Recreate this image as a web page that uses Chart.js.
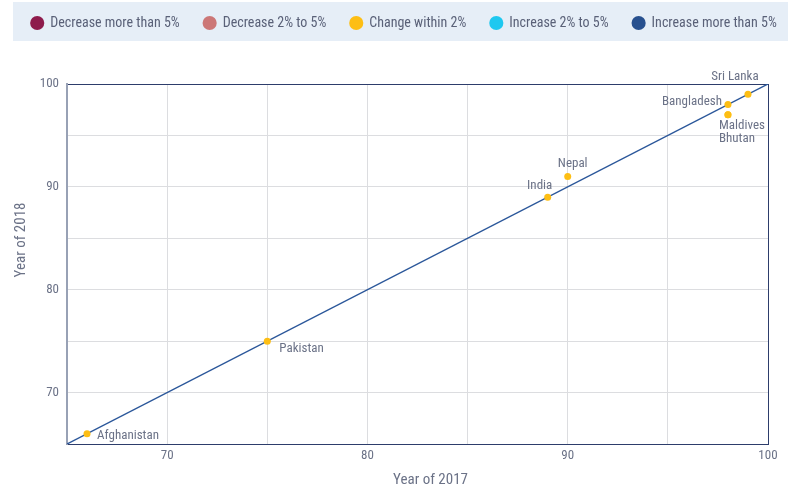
<!DOCTYPE html>
<html>
<head>
<meta charset="utf-8">
<script src="https://cdn.jsdelivr.net/npm/chart.js@4.4.0/dist/chart.umd.min.js"></script>
<style>
  html, body { margin: 0; padding: 0; background: #fff; }
  #wrap { position: relative; width: 798px; height: 487px; }
</style>
</head>
<body>
<div id="wrap"><canvas id="chart"></canvas></div>
<script>
// data
const countries = ['Afghanistan', 'Pakistan', 'India', 'Nepal', 'Bangladesh', 'Maldives', 'Bhutan', 'Sri Lanka'];
const score2017 = [66, 75, 89, 90, 98, 98, 98, 99];
const score2018 = [66, 75, 89, 91, 98, 97, 97, 99];
const changeGroup = [2, 2, 2, 2, 2, 2, 2, 2]; // index into groupNames
const groupNames = ['Decrease more than 5%', 'Decrease 2% to 5%', 'Change within 2%', 'Increase 2% to 5%', 'Increase more than 5%'];
const axisRange = [65, 100];
const tickStep = 5;
const labelEvery = 10;

const groupColors = ['#8E1B4C', '#CC7777', '#FDBE14', '#1EC8F0', '#27508F'];
const FONT = "'Roboto Condensed', 'Roboto', sans-serif";
const TEXT = '#6B7287';
const DARK = '#2D3D6B';

// where each country name sits relative to its dot
const labelPlace = {
    'Afghanistan': { dx: 10, dy: 2, align: 'left' },
    'Pakistan': { dx: 12, dy: 8, align: 'left' },
    'India': { dx: -8, dy: -11, align: 'center' },
    'Nepal': { dx: 5, dy: -13, align: 'center' },
    'Bangladesh': { dx: -6, dy: -3, align: 'right' },
    'Maldives': { dx: -9, dy: 11, align: 'left' },
    'Bhutan': { dx: -9, dy: 24, align: 'left' },
    'Sri Lanka': { dx: -13, dy: -18, align: 'center' }
};

const datasets = groupNames.map(function (name, g) {
    const pts = [];
    countries.forEach(function (c, i) {
        if (changeGroup[i] === g) pts.push({ x: score2017[i], y: score2018[i], name: c });
    });
    return {
        label: name,
        data: pts,
        backgroundColor: groupColors[g],
        borderWidth: 0,
        pointRadius: 3.5,
        pointHoverRadius: 3.5,
        order: 0
    };
});

// parity line
datasets.push({
    label: 'parity',
    data: [{ x: axisRange[0], y: axisRange[0] }, { x: axisRange[1], y: axisRange[1] }],
    showLine: true,
    borderColor: '#2B579A',
    borderWidth: 1.4,
    pointRadius: 0,
    order: 1
});

const bandPlugin = {
    id: 'band',
    beforeDraw(chart) {
        const ctx = chart.ctx;
        ctx.save();
        ctx.fillStyle = '#E6EEF7';
        ctx.fillRect(13, 2, 775, 39);
        ctx.restore();
    },
    afterLayout(chart) {
        // pull the legend row up into the band
        const lg = chart.legend;
        if (!lg) return;
        lg.top -= 44;
        lg.bottom -= 44;
        lg.left += 5;
        lg.right += 5;
    }
};

const labelPlugin = {
    id: 'names',
    afterDatasetsDraw(chart) {
        const ctx = chart.ctx;
        ctx.save();
        ctx.font = '13px ' + FONT;
        ctx.fillStyle = TEXT;
        ctx.textBaseline = 'middle';
        chart.data.datasets.forEach(function (ds, di) {
            if (ds.label === 'parity') return;
            const meta = chart.getDatasetMeta(di);
            meta.data.forEach(function (el, i) {
                const name = ds.data[i].name;
                const p = labelPlace[name];
                ctx.textAlign = p.align;
                ctx.fillText(name, el.x + p.dx, el.y + p.dy);
            });
        });
        ctx.restore();
    }
};

const titlePlugin = {
    id: 'axisTitles',
    afterDraw(chart) {
        const a = chart.chartArea;
        const ctx = chart.ctx;
        ctx.save();
        ctx.font = '15px ' + FONT;
        ctx.fillStyle = TEXT;
        ctx.textAlign = 'center';
        ctx.textBaseline = 'middle';
        ctx.fillText('Year of 2017', (a.left + a.right) / 2 + 13, a.bottom + 36);
        ctx.translate(a.left - 46, (a.top + a.bottom) / 2 - 24);
        ctx.rotate(-Math.PI / 2);
        ctx.fillText('Year of 2018', 0, 0);
        ctx.restore();
    }
};

function tickLabel(v) {
    return v % labelEvery === 0 ? v : '';
}

function gridColor(c) {
    const v = c.tick && c.tick.value;
    if (v === axisRange[1]) return DARK;
    if (v === axisRange[0]) return 'rgba(0,0,0,0)';
    return '#DCDDE0';
}

new Chart(document.getElementById('chart'), {
    type: 'scatter',
    data: { datasets: datasets },
    options: {
        responsive: true,
        maintainAspectRatio: false,
        animation: false,
        layout: { padding: { left: 0, right: 0, top: 36, bottom: 0 } },
        plugins: {
            tooltip: { enabled: false },
            legend: {
                position: 'top',
                labels: {
                    usePointStyle: true,
                    pointStyle: 'circle',
                    boxWidth: 12,
                    boxHeight: 10,
                    padding: 24,
                    color: '#5A6178',
                    font: { family: FONT, size: 14 },
                    filter: function (item) { return item.text !== 'parity'; }
                }
            }
        },
        scales: {
            x: {
                type: 'linear',
                min: axisRange[0],
                max: axisRange[1],
                afterFit: function (s) { s.height = 43; },
                ticks: { stepSize: tickStep, callback: tickLabel, color: TEXT, font: { family: FONT, size: 13 }, padding: 4, maxRotation: 0 },
                grid: { color: gridColor, drawTicks: false },
                border: { color: DARK, width: 1 }
            },
            y: {
                type: 'linear',
                min: axisRange[0],
                max: axisRange[1],
                afterFit: function (s) { s.width = 67; },
                ticks: { stepSize: tickStep, callback: tickLabel, color: TEXT, font: { family: FONT, size: 13 }, padding: 8 },
                grid: { color: gridColor, drawTicks: false },
                border: { color: '#98A1B5', width: 2 }
            },
            // empty right-hand axis, only keeps the right margin
            yRight: {
                type: 'linear',
                position: 'right',
                min: axisRange[0],
                max: axisRange[1],
                afterFit: function (s) { s.width = 30; },
                ticks: { display: false },
                grid: { display: false, drawTicks: false },
                border: { display: false }
            }
        }
    },
    plugins: [bandPlugin, labelPlugin, titlePlugin]
});
</script>
</body>
</html>
